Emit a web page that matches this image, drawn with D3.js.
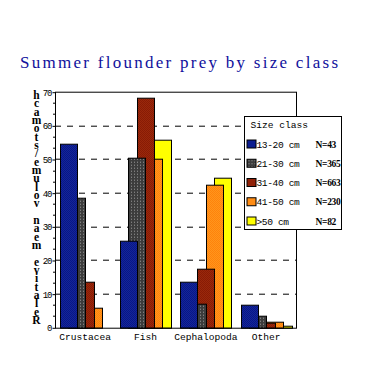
<!DOCTYPE html>
<html>
<head>
<meta charset="utf-8">
<script src="https://cdn.jsdelivr.net/npm/d3@7/dist/d3.min.js"></script>
<style>
  body { margin: 0; background: #fff; }
  text { font-family: "Liberation Mono", monospace; }
</style>
</head>
<body>
<div class="chart"></div>
<script>
// Chart data
var categories = ["Crustacea", "Fish", "Cephalopoda", "Other"];
var sizeClasses = ["13-20 cm", "21-30 cm", "31-40 cm", "41-50 cm", ">50 cm"];
var sampleSizes = ["N=43", "N=365", "N=663", "N=230", "N=82"];
var size13to20 = [54.5, 25.6, 13.4, 6.6];
var size21to30 = [38.4, 50.5, 7.0, 3.4];
var size31to40 = [13.4, 68.1, 17.3, 1.4];
var size41to50 = [5.7, 50.2, 42.3, 1.8];
var sizeOver50 = [0, 55.6, 44.4, 0.4];
var yTicks = [0, 10, 20, 30, 40, 50, 60, 70];
var yTitle = "Relative mean volume/stomach";

var series = [size13to20, size21to30, size31to40, size41to50, sizeOver50];

// SVG area
var svgWidth = 375;
var svgHeight = 375;

var chartMargin = { top: 91.7, right: 78.7, bottom: 47.7, left: 55 };
var width = svgWidth - chartMargin.left - chartMargin.right;
var height = svgHeight - chartMargin.top - chartMargin.bottom;

var svg = d3.select(".chart")
    .append("svg")
    .attr("width", svgWidth)
    .attr("height", svgHeight);

// dithered fills
var defs = svg.append("defs");
function checker(id, c1, c2) {
    var p = defs.append("pattern").attr("id", id)
        .attr("width", 2).attr("height", 2)
        .attr("patternUnits", "userSpaceOnUse");
    p.append("rect").attr("width", 2).attr("height", 2).attr("fill", c1);
    p.append("rect").attr("width", 1).attr("height", 1).attr("fill", c2);
    p.append("rect").attr("x", 1).attr("y", 1).attr("width", 1).attr("height", 1).attr("fill", c2);
}
checker("p0", "#00087c", "#1c34a4");
checker("p2", "#7a1000", "#a83410");
checker("p3", "#ff7400", "#ffa428");
var pg = defs.append("pattern").attr("id", "p1")
    .attr("width", 3).attr("height", 3)
    .attr("patternUnits", "userSpaceOnUse");
pg.append("rect").attr("width", 3).attr("height", 3).attr("fill", "#3c3c3c");
pg.append("rect").attr("x", 1).attr("y", 1).attr("width", 1).attr("height", 1).attr("fill", "#9a9a9a");
var fills = ["url(#p0)", "url(#p1)", "url(#p2)", "url(#p3)", "#ffff00"];

// Title
svg.append("text")
    .attr("x", 20)
    .attr("y", 68)
    .attr("textLength", 318)
    .attr("lengthAdjust", "spacing")
    .style("font-family", "'Liberation Serif', serif")
    .style("font-size", "17px")
    .style("fill", "#10109c")
    .text("Summer flounder prey by size class");

var chart = svg.append("g")
    .attr("transform", `translate(${chartMargin.left}, ${chartMargin.top})`);

// Scales
var xBandScale = d3.scaleBand().domain(categories).range([0, width]);
var yLinearScale = d3.scaleLinear().domain([0, 70]).range([height, 0]);
var barWidth = 17;
var barStep = barWidth / 2;

// dashed grid lines
chart.append("g")
    .selectAll("line")
    .data(yTicks.filter(function(d) { return d > 0 && d < 70; }))
    .enter()
    .append("line")
    .attr("x1", 0)
    .attr("x2", width)
    .attr("y1", function(d) { return Math.round(yLinearScale(d)) + 0.5; })
    .attr("y2", function(d) { return Math.round(yLinearScale(d)) + 0.5; })
    .attr("stroke", "#000")
    .attr("stroke-dasharray", "6,6");

// bars: last size class drawn first so the smaller fish sit on top
for (var s = series.length - 1; s >= 0; s--) {
    chart.append("g")
        .selectAll("rect")
        .data(series[s])
        .enter()
        .append("rect")
        .attr("x", function(d, i) {
            var groupStart = xBandScale(categories[i]) + (xBandScale.bandwidth() - barWidth * 3) / 2;
            return Math.round(groupStart + s * barStep) + 0.5;
        })
        .attr("y", function(d) { return Math.round(yLinearScale(d)) + 0.5; })
        .attr("width", barWidth)
        .attr("height", function(d) { return Math.round(height) - Math.round(yLinearScale(d)); })
        .attr("fill", fills[s])
        .attr("stroke", "#000")
        .attr("stroke-width", 1);
}

// frame
chart.append("rect")
    .attr("x", 0.5)
    .attr("y", 0.5)
    .attr("width", Math.round(width))
    .attr("height", Math.round(height))
    .attr("fill", "none")
    .attr("stroke", "#000");

// y axis
var leftAxis = d3.axisLeft(yLinearScale)
    .tickValues(yTicks)
    .tickSize(3)
    .tickPadding(1)
    .tickFormat(d3.format("d"));
var yAxis = chart.append("g").attr("transform", "translate(0.5,0.5)").call(leftAxis);
yAxis.select(".domain").remove();
yAxis.selectAll("text")
    .style("font-family", "'Liberation Mono', monospace")
    .style("font-size", "9px")
    .style("letter-spacing", "-1px")
    .attr("fill", "#000");

// minor ticks
var minor = [];
yTicks.slice(0, -1).forEach(function(t) { minor.push(t + 10 / 3, t + 20 / 3); });
chart.append("g")
    .selectAll("line")
    .data(minor)
    .enter()
    .append("line")
    .attr("x1", -2)
    .attr("x2", 0)
    .attr("y1", function(d) { return Math.round(yLinearScale(d)) + 0.5; })
    .attr("y2", function(d) { return Math.round(yLinearScale(d)) + 0.5; })
    .attr("stroke", "#000");

// x axis labels
chart.append("g")
    .selectAll("text")
    .data(categories)
    .enter()
    .append("text")
    .attr("x", function(d) { return xBandScale(d) + xBandScale.bandwidth() / 2; })
    .attr("y", height + 12.5)
    .attr("text-anchor", "middle")
    .style("font-size", "9.6px")
    .text(function(d) { return d; });

// y title: letters stacked upright, read bottom to top
svg.append("text")
    .attr("text-anchor", "middle")
    .style("font-family", "'Liberation Serif', serif")
    .style("font-weight", "bold")
    .style("font-size", "11.5px")
    .selectAll("tspan")
    .data(yTitle.split(""))
    .enter()
    .append("tspan")
    .attr("x", 36.5)
    .attr("y", function(d, i) { return 324 - i * 8.33; })
    .text(function(d) { return d; });

// legend
var legend = svg.append("g").attr("transform", "translate(244.5, 116.5)");
legend.append("rect")
    .attr("width", 97)
    .attr("height", 113)
    .attr("fill", "#fff")
    .attr("stroke", "#000");
legend.append("text")
    .attr("x", 6)
    .attr("y", 11)
    .style("font-size", "9.6px")
    .text("Size class");
var rows = legend.selectAll(".row")
    .data(sizeClasses)
    .enter()
    .append("g")
    .attr("class", "row")
    .attr("transform", function(d, i) { return `translate(0, ${23.5 + i * 19.25})`; });
rows.append("rect")
    .attr("x", 2.5)
    .attr("y", 0)
    .attr("width", 9)
    .attr("height", 8)
    .attr("fill", function(d, i) { return fills[i]; })
    .attr("stroke", "#000");
rows.append("text")
    .attr("x", 12)
    .attr("y", 7.5)
    .style("font-size", "9.6px")
    .style("letter-spacing", "-0.4px")
    .text(function(d) { return d; });
rows.append("text")
    .attr("x", 71)
    .attr("y", 7.5)
    .style("font-family", "'Liberation Serif', serif")
    .style("font-weight", "bold")
    .style("font-size", "9.5px")
    .style("letter-spacing", "-0.3px")
    .text(function(d, i) { return sampleSizes[i]; });
</script>
</body>
</html>
